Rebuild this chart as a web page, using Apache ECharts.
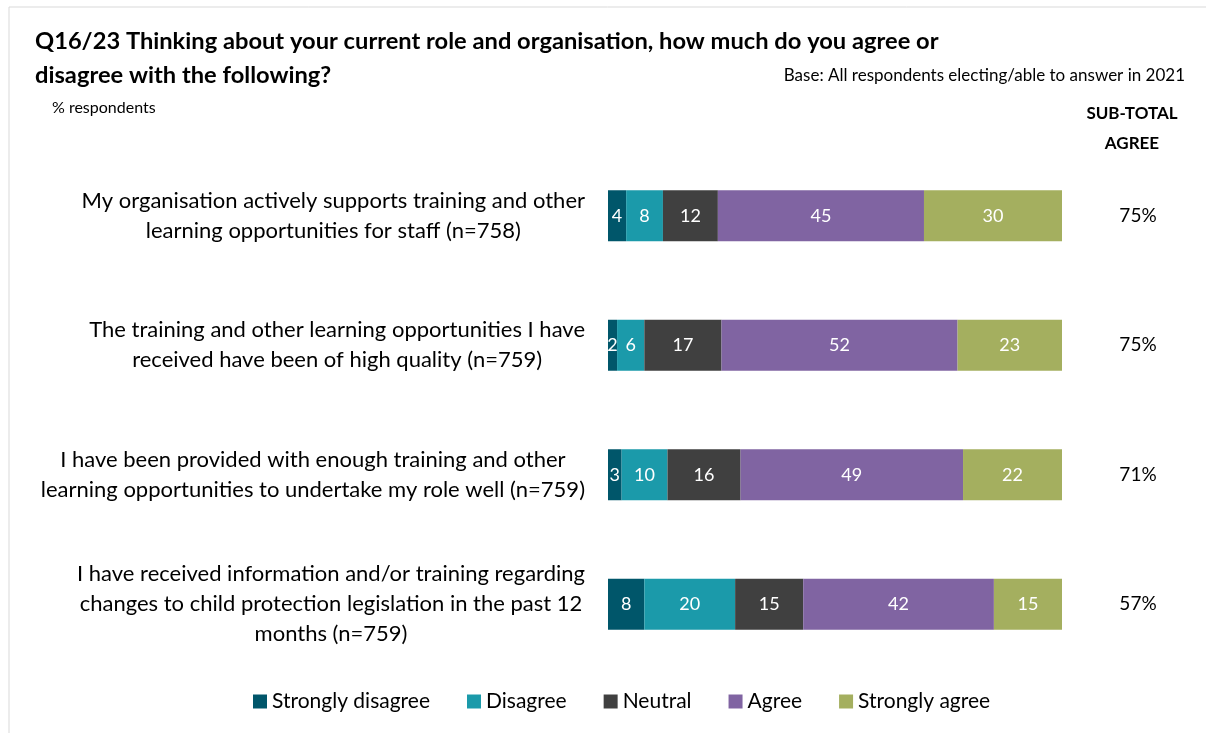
<!DOCTYPE html>
<html>
<head>
<meta charset="utf-8">
<script src="https://cdn.jsdelivr.net/npm/echarts@6/dist/echarts.min.js"></script>
<style>
html, body { margin: 0; padding: 0; background: #fff; }
#chart { width: 1206px; height: 733px; }
</style>
</head>
<body>
<div id="chart"></div>
<script>
var statements = [
	'My organisation actively supports training and other\nlearning opportunities for staff (n=758)',
	'The training and other learning opportunities I have\nreceived have been of high quality (n=759)',
	'I have been provided with enough training and other\nlearning opportunities to undertake my role well (n=759)',
	'I have received information and/or training regarding\nchanges to child protection legislation in the past 12\nmonths (n=759)'
];
var stronglyDisagree = [4, 2, 3, 8];
var disagree = [8.1, 6, 10.1, 20];
var neutral = [12.1, 17, 16.1, 15];
var agree = [45.4, 52, 49, 42];
var stronglyAgree = [30.4, 23, 22, 15];
var subTotals = [75, 75, 71, 57];

var seriesNames = ['Strongly disagree', 'Disagree', 'Neutral', 'Agree', 'Strongly agree'];
var seriesData = [stronglyDisagree, disagree, neutral, agree, stronglyAgree];
var colors = ['#00566A', '#1B9AAA', '#404040', '#8064A2', '#A4AF5F'];

var font = 'Lato, "Liberation Sans", sans-serif';

var chart = echarts.init(document.getElementById('chart'));

var series = seriesNames.map(function (name, i) {
	return {
		name: name,
		type: 'bar',
		stack: 'total',
		barWidth: 51,
		data: seriesData[i],
		itemStyle: { color: colors[i] },
		label: {
			show: true,
			position: 'inside',
			color: '#fff',
			fontSize: 18,
			fontFamily: font,
			formatter: function (p) { return Math.round(p.value); }
		}
	};
});

var option = {
	animation: false,
	color: colors,
	title: {
		text: 'Q16/23 Thinking about your current role and organisation, how much do you agree or\ndisagree with the following?',
		left: 30,
		top: 19,
		textStyle: { fontSize: 23.7, fontWeight: 'bold', color: '#000', lineHeight: 34, fontFamily: font }
	},
	legend: {
		data: seriesNames,
		top: 686,
		left: 248,
		itemWidth: 14,
		itemHeight: 14,
		itemGap: 37,
		icon: 'rect',
		textStyle: { fontSize: 21, color: '#000', fontFamily: font }
	},
	grid: { left: 608, right: 144, top: 151, bottom: 64, containLabel: false },
	xAxis: {
		type: 'value',
		min: 0,
		max: 100,
		show: false
	},
	yAxis: [{
		type: 'category',
		data: statements,
		inverse: true,
		axisLine: { show: false },
		axisTick: { show: false },
		axisLabel: {
			margin: 23,
			align: 'right',
			fontSize: 22,
			color: '#000',
			fontFamily: font,
			lineHeight: 30,
			formatter: function (v) {
				return v.split('\n').map(function (l) { return '{c|' + l + '}'; }).join('\n');
			},
			rich: { c: { align: 'center', fontSize: 22, lineHeight: 30, fontFamily: font, color: '#000' } }
		}
	}, {
		type: 'category',
		data: subTotals.map(function (v) { return v + '%'; }),
		inverse: true,
		position: 'right',
		axisLine: { show: false },
		axisTick: { show: false },
		axisLabel: {
			margin: 76,
			align: 'center',
			fontSize: 19,
			color: '#000',
			fontFamily: font
		}
	}],
	graphic: [
		{ type: 'line', shape: { x1: 9, y1: 7, x2: 1206, y2: 7 }, style: { stroke: '#D9D9D9', lineWidth: 1 } },
		{ type: 'line', shape: { x1: 9, y1: 7, x2: 9, y2: 733 }, style: { stroke: '#D9D9D9', lineWidth: 1 } },
		{ type: 'text', x: 1185, y: 76, style: { text: 'Base: All respondents electing/able to answer in 2021', fontSize: 17, fontFamily: font, fill: '#000', align: 'right', verticalAlign: 'middle' } },
		{ type: 'text', x: 52, y: 108, style: { text: '% respondents', fontSize: 16, fontFamily: font, fill: '#000', align: 'left', verticalAlign: 'middle' } },
		{ type: 'text', x: 1132, y: 129, style: { text: 'SUB-TOTAL\nAGREE', fontSize: 17, fontWeight: 'bold', fontFamily: font, lineHeight: 30, fill: '#000', align: 'center', verticalAlign: 'middle' } }
	],
	series: series
};

chart.setOption(option);
</script>
</body>
</html>
